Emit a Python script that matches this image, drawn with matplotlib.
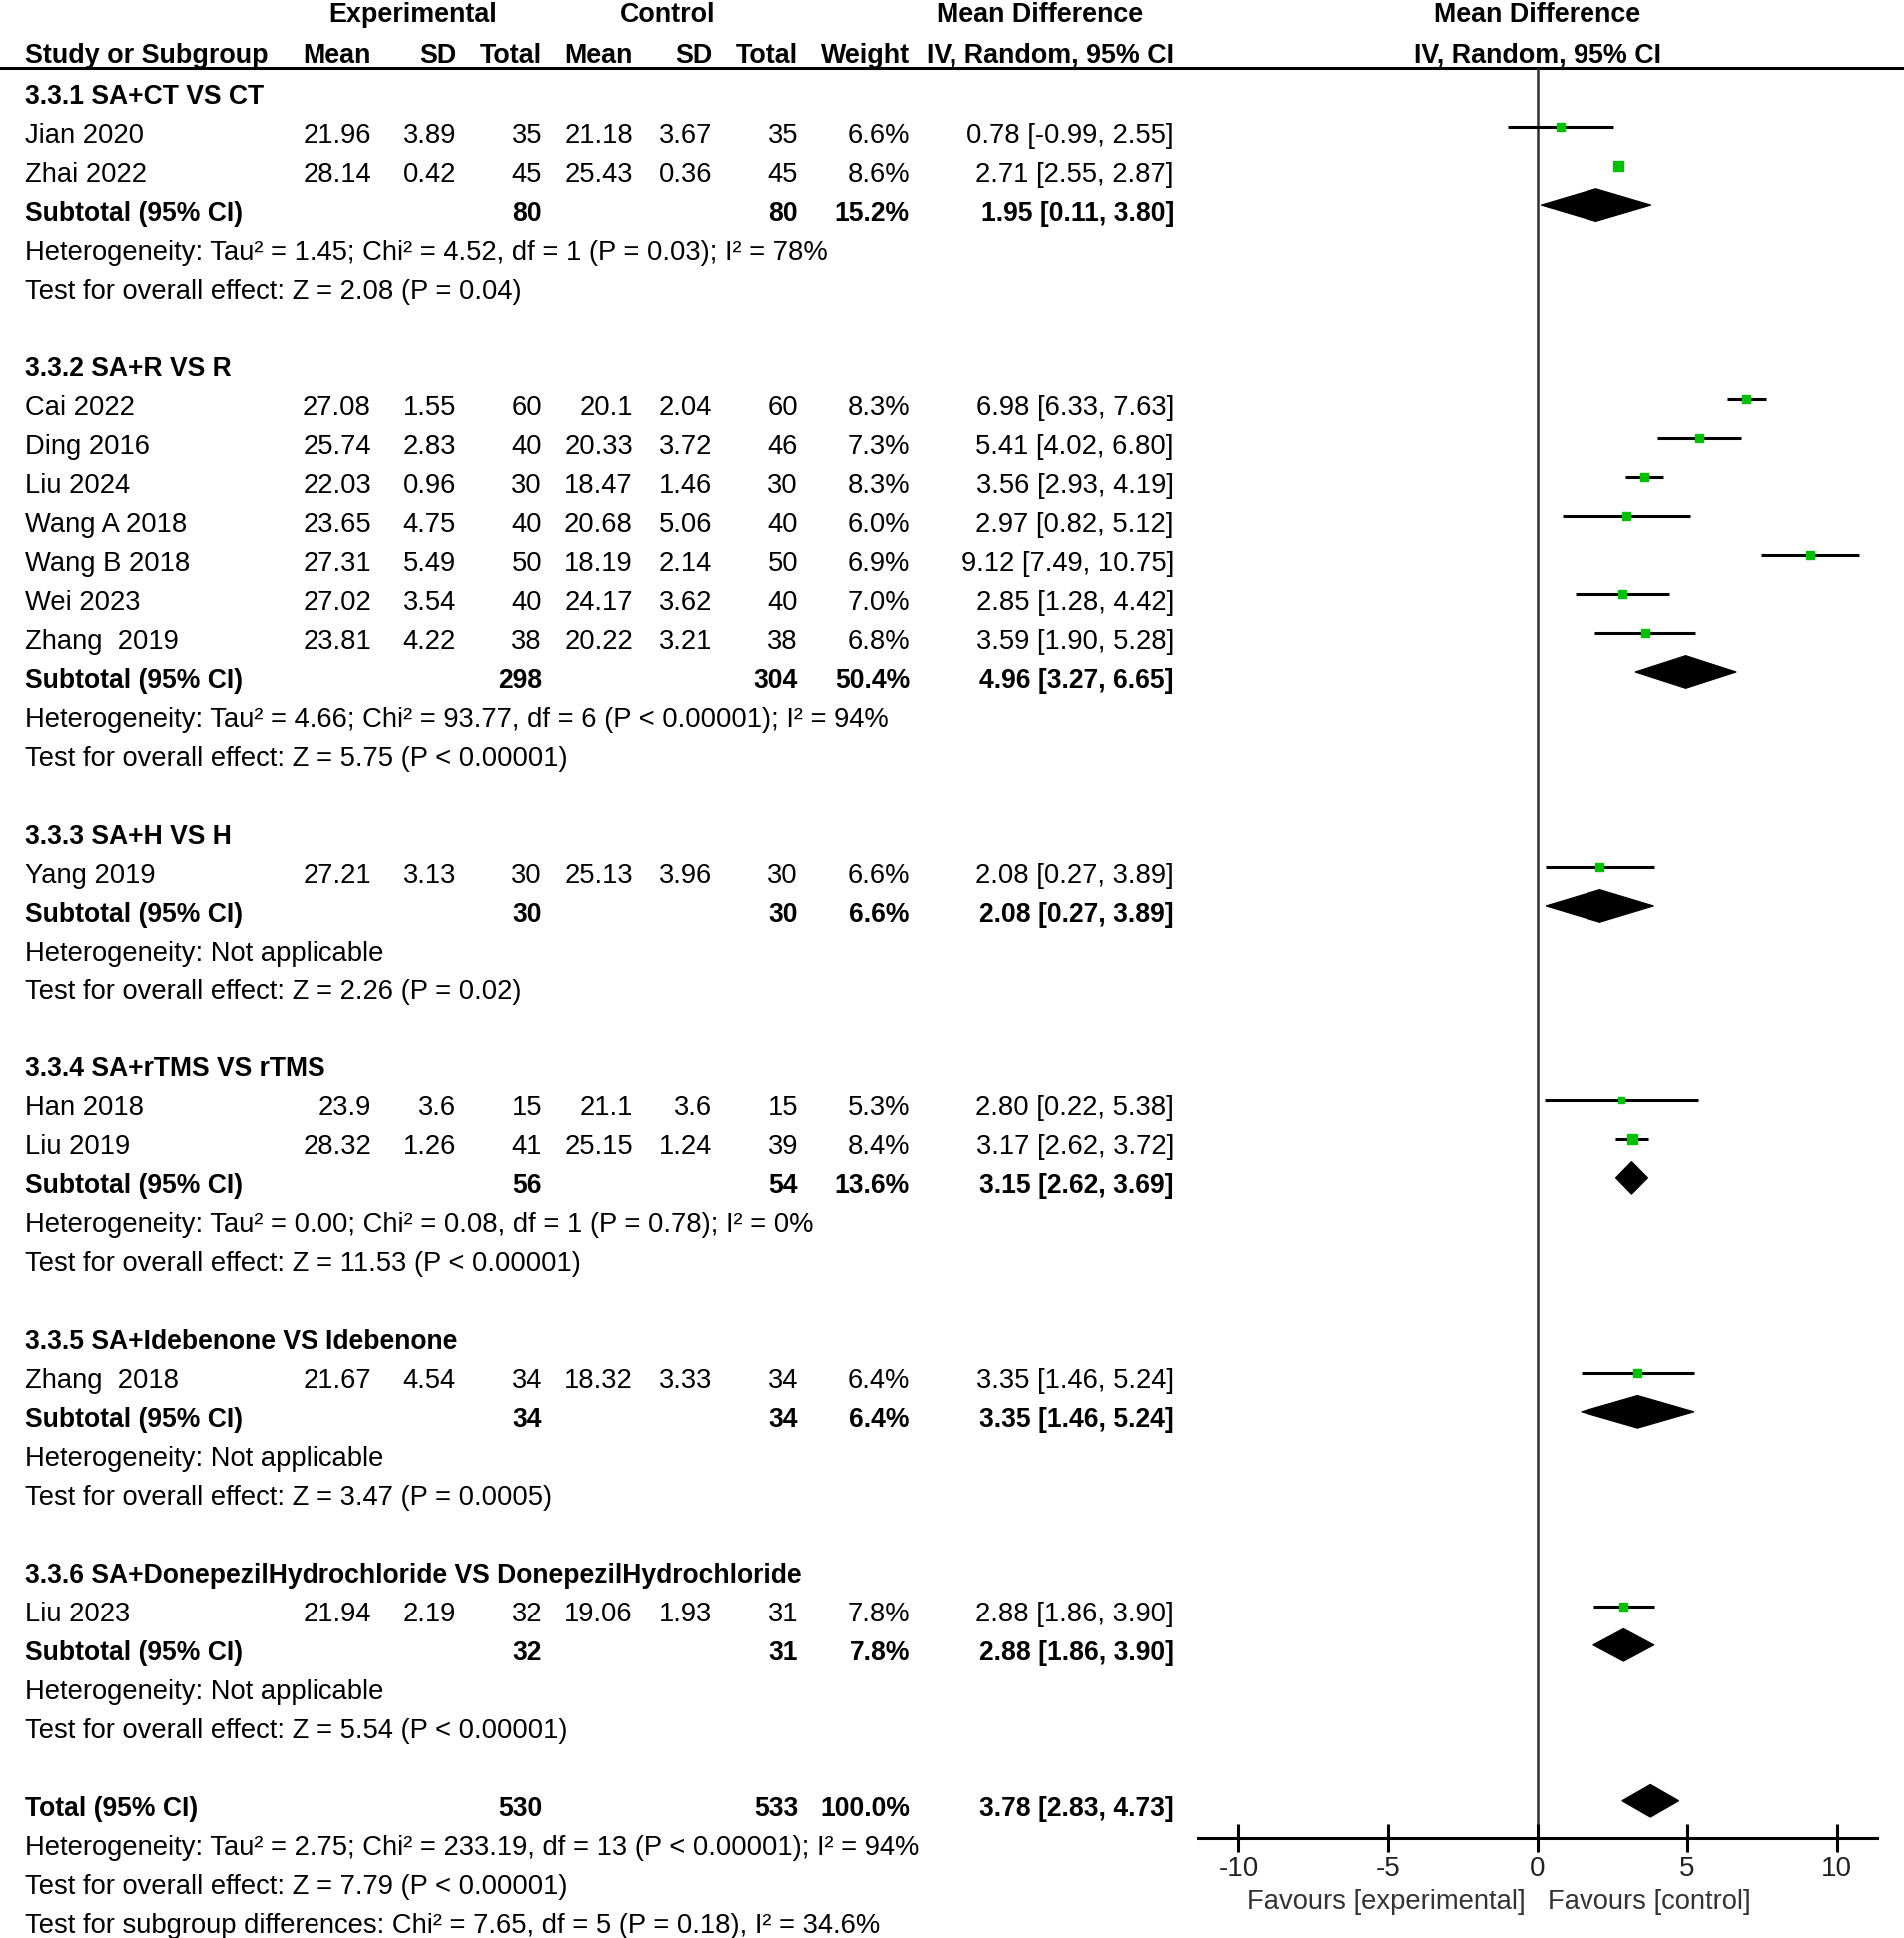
import matplotlib.pyplot as plt
from matplotlib.patches import Polygon

plt.rcParams['font.family'] = ['Liberation Sans', 'DejaVu Sans']
plt.rcParams['font.size'] = 19.7
BOLD_SIZE = 19.1

# ---- data ----
group_titles = ["3.3.1 SA+CT VS CT", "3.3.2 SA+R VS R", "3.3.3 SA+H VS H",
                "3.3.4 SA+rTMS VS rTMS", "3.3.5 SA+Idebenone VS Idebenone",
                "3.3.6 SA+DonepezilHydrochloride VS DonepezilHydrochloride"]

study_names = ["Jian 2020", "Zhai 2022",
               "Cai 2022", "Ding 2016", "Liu 2024", "Wang A 2018", "Wang B 2018", "Wei 2023", "Zhang  2019",
               "Yang 2019",
               "Han 2018", "Liu 2019",
               "Zhang  2018",
               "Liu 2023"]
study_group = [0, 0, 1, 1, 1, 1, 1, 1, 1, 2, 3, 3, 4, 5]
exp_mean = [21.96, 28.14, 27.08, 25.74, 22.03, 23.65, 27.31, 27.02, 23.81, 27.21, 23.9, 28.32, 21.67, 21.94]
exp_sd = [3.89, 0.42, 1.55, 2.83, 0.96, 4.75, 5.49, 3.54, 4.22, 3.13, 3.6, 1.26, 4.54, 2.19]
exp_n = [35, 45, 60, 40, 30, 40, 50, 40, 38, 30, 15, 41, 34, 32]
ctl_mean = [21.18, 25.43, 20.1, 20.33, 18.47, 20.68, 18.19, 24.17, 20.22, 25.13, 21.1, 25.15, 18.32, 19.06]
ctl_sd = [3.67, 0.36, 2.04, 3.72, 1.46, 5.06, 2.14, 3.62, 3.21, 3.96, 3.6, 1.24, 3.33, 1.93]
ctl_n = [35, 45, 60, 46, 30, 40, 50, 40, 38, 30, 15, 39, 34, 31]
weight = [6.6, 8.6, 8.3, 7.3, 8.3, 6.0, 6.9, 7.0, 6.8, 6.6, 5.3, 8.4, 6.4, 7.8]
md = [0.78, 2.71, 6.98, 5.41, 3.56, 2.97, 9.12, 2.85, 3.59, 2.08, 2.80, 3.17, 3.35, 2.88]
md_lo = [-0.99, 2.55, 6.33, 4.02, 2.93, 0.82, 7.49, 1.28, 1.90, 0.27, 0.22, 2.62, 1.46, 1.86]
md_hi = [2.55, 2.87, 7.63, 6.80, 4.19, 5.12, 10.75, 4.42, 5.28, 3.89, 5.38, 3.72, 5.24, 3.90]

sub_exp_n = [80, 298, 30, 56, 34, 32]
sub_ctl_n = [80, 304, 30, 54, 34, 31]
sub_weight = [15.2, 50.4, 6.6, 13.6, 6.4, 7.8]
sub_md = [1.95, 4.96, 2.08, 3.15, 3.35, 2.88]
sub_lo = [0.11, 3.27, 0.27, 2.62, 1.46, 1.86]
sub_hi = [3.80, 6.65, 3.89, 3.69, 5.24, 3.90]
sub_het = ["Heterogeneity: Tau² = 1.45; Chi² = 4.52, df = 1 (P = 0.03); I² = 78%",
           "Heterogeneity: Tau² = 4.66; Chi² = 93.77, df = 6 (P < 0.00001); I² = 94%",
           "Heterogeneity: Not applicable",
           "Heterogeneity: Tau² = 0.00; Chi² = 0.08, df = 1 (P = 0.78); I² = 0%",
           "Heterogeneity: Not applicable",
           "Heterogeneity: Not applicable"]
sub_test = ["Test for overall effect: Z = 2.08 (P = 0.04)",
            "Test for overall effect: Z = 5.75 (P < 0.00001)",
            "Test for overall effect: Z = 2.26 (P = 0.02)",
            "Test for overall effect: Z = 11.53 (P < 0.00001)",
            "Test for overall effect: Z = 3.47 (P = 0.0005)",
            "Test for overall effect: Z = 5.54 (P < 0.00001)"]

total_exp_n, total_ctl_n, total_weight = 530, 533, 100.0
total_md, total_lo, total_hi = 3.78, 2.83, 4.73
total_notes = ["Heterogeneity: Tau² = 2.75; Chi² = 233.19, df = 13 (P < 0.00001); I² = 94%",
               "Test for overall effect: Z = 7.79 (P < 0.00001)",
               "Test for subgroup differences: Chi² = 7.65, df = 5 (P = 0.18), I² = 34.6%"]

x_ticks = [-10, -5, 0, 5, 10]

# ---- layout ----
W, H = 1908, 1941
fig = plt.figure(figsize=(W / 100, H / 100), dpi=100)
ylim = (49.4, -0.38)

ax = fig.add_axes([0, 0, 1, 1])
ax.set_xlim(0, W)
ax.set_ylim(*ylim)
ax.axis('off')

axf = fig.add_axes([1200 / W, 0, 680 / W, 1])
axf.set_xlim(-11.35, 11.35)
axf.set_ylim(*ylim)
axf.patch.set_alpha(0)

# column anchors (pixels, right edges)
c_name = 25
c_em, c_esd, c_en = 372, 457, 543
c_cm, c_csd, c_cn = 634, 713, 799
c_w, c_ci = 911, 1176

tdy = 0.1  # text sits a little lower than the marks

def style(bold, size=None):
    if bold:
        return dict(fontweight='bold', fontsize=size or BOLD_SIZE)
    return dict(fontweight='normal')

def row_text(y, cols, bold=False, size=None):
    for x, s in cols:
        ax.text(x, y + tdy, s, ha='right', va='center', **style(bold, size))

def left_text(y, s, bold=False, size=None):
    ax.text(c_name, y + tdy, s, ha='left', va='center', **style(bold, size))

def fmt_ci(m, lo, hi):
    return f"{m:.2f} [{lo:.2f}, {hi:.2f}]"

def diamond(y, m, lo, hi, h=0.42):
    axf.add_patch(Polygon([(lo, y), (m, y - h), (hi, y), (m, y + h)], closed=True,
                          facecolor='black', edgecolor='black', lw=0.8))

# headers
HS = 19.4
hb = dict(fontweight='bold', fontsize=HS, va='center')
ax.text(414, 0, "Experimental", ha='center', **hb)
ax.text(669, 0, "Control", ha='center', **hb)
ax.text(1042, 0, "Mean Difference", ha='center', **hb)
ax.text(1540, 0, "Mean Difference", ha='center', **hb)
left_text(0.95, "Study or Subgroup", bold=True, size=HS)
row_text(0.95, [(c_em, "Mean"), (c_esd, "SD"), (c_en, "Total"), (c_cm, "Mean"), (c_csd, "SD"),
                (c_cn, "Total"), (c_w, "Weight"), (c_ci, "IV, Random, 95% CI")], bold=True, size=HS)
ax.text(1540, 0.95 + tdy, "IV, Random, 95% CI", ha='center', **hb)
header_line = 1.37
ax.axhline(header_line, color='black', lw=2.2)

off = -0.12
row = 2
for g, title in enumerate(group_titles):
    left_text(row, title, bold=True)
    row += 1
    for i, name in enumerate(study_names):
        if study_group[i] != g:
            continue
        left_text(row, name)
        row_text(row, [(c_em, f"{exp_mean[i]:g}"), (c_esd, f"{exp_sd[i]:g}"), (c_en, f"{exp_n[i]}"),
                       (c_cm, f"{ctl_mean[i]:g}"), (c_csd, f"{ctl_sd[i]:g}"), (c_cn, f"{ctl_n[i]}"),
                       (c_w, f"{weight[i]:.1f}%"), (c_ci, fmt_ci(md[i], md_lo[i], md_hi[i]))])
        axf.hlines(row + off, md_lo[i], md_hi[i], color='black', lw=2.2, zorder=2)
        axf.plot(md[i], row + off, 's', color='#00c000', mec='#00c000',
                 ms=4.8 + (weight[i] - 5) * 0.5, zorder=3)
        row += 1
    left_text(row, "Subtotal (95% CI)", bold=True)
    row_text(row, [(c_en, f"{sub_exp_n[g]}"), (c_cn, f"{sub_ctl_n[g]}"),
                   (c_w, f"{sub_weight[g]:.1f}%"),
                   (c_ci, fmt_ci(sub_md[g], sub_lo[g], sub_hi[g]))], bold=True)
    diamond(row + off, sub_md[g], sub_lo[g], sub_hi[g])
    row += 1
    left_text(row, sub_het[g])
    left_text(row + 1, sub_test[g])
    row += 3

# overall
left_text(row, "Total (95% CI)", bold=True)
row_text(row, [(c_en, f"{total_exp_n}"), (c_cn, f"{total_ctl_n}"), (c_w, f"{total_weight:.1f}%"),
               (c_ci, fmt_ci(total_md, total_lo, total_hi))], bold=True)
diamond(row + off, total_md, total_lo, total_hi)
for k, s in enumerate(total_notes):
    left_text(row + 1 + k, s)

# forest axis
axis_row = 46.83
for s in ['top', 'right', 'left']:
    axf.spines[s].set_visible(False)
axf.spines['bottom'].set_position(('data', axis_row))
axf.spines['bottom'].set_linewidth(2.2)
axf.set_yticks([])
axf.set_xticks(x_ticks)
axf.set_xticklabels([f"{t}" for t in x_ticks])
axf.tick_params(axis='x', direction='inout', length=20, width=2.2, labelsize=20,
                pad=3, colors='black', labelcolor='#222222')
axf.vlines(0, header_line, axis_row, color='#333333', lw=1.8, zorder=1)
axf.text(-0.4, axis_row + 1.65, "Favours [experimental]", ha='right', va='center', color='#333333')
axf.text(0.35, axis_row + 1.65, "Favours [control]", ha='left', va='center', color='#333333')

fig.savefig("out.png", dpi=100)
